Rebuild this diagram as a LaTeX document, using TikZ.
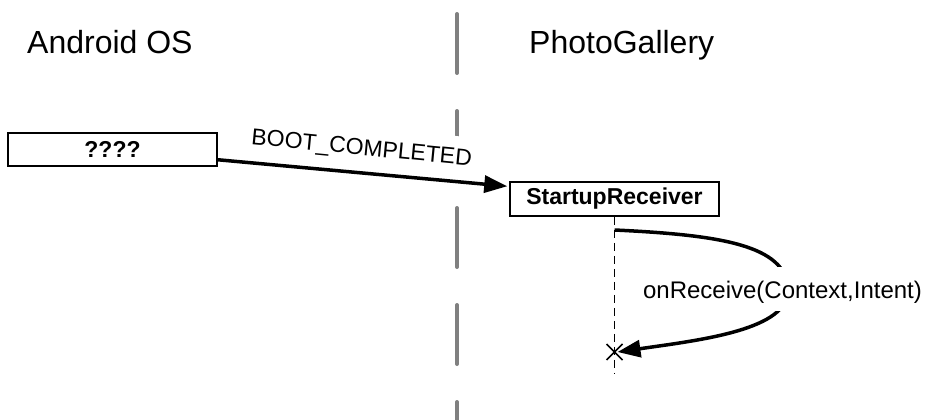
\documentclass[tikz,border=0pt]{standalone}
\usepackage{fontspec}
\setmainfont{Liberation Sans}
\usetikzlibrary{arrows.meta,calc}
\begin{document}
\begin{tikzpicture}[x=1pt,y=-1pt,
  title/.style={font=\fontsize{32}{36}\selectfont, anchor=base west, inner sep=0pt},
  objbox/.style={draw=black, line width=1.5pt, fill=white, minimum width=209pt, minimum height=33pt, inner sep=0pt, font=\fontsize{23}{25}\selectfont\bfseries},
  msg/.style={line width=3.5pt, -{Triangle[length=23pt,width=17pt]}},
  msglabel/.style={fill=white, inner xsep=2pt, inner ysep=0pt, anchor=base},
  divider/.style={draw=black!50, line width=4pt, line cap=round, dash pattern=on 59pt off 38pt},
  lifeline/.style={draw=black, line width=1.5pt, dash pattern=on 8pt off 5pt}
]
\useasboundingbox (0,0) rectangle (927,420);
% divider
\coordinate (dtop) at (457,14);
\coordinate (dbot) at (457,430);
\draw[divider] (dtop) -- (dbot);
% titles
\node[title] (android) at (27,54) {Android OS};
\node[title] (gallery) at (529,54) {PhotoGallery};
% objects
\node[objbox] (os) at (112.5,149.5) {????};
\node[objbox, minimum height=34pt] (recv) at (614.5,199) {StartupReceiver};
% lifeline
\coordinate (lend) at (614.5,374);
\draw[lifeline] (recv.south) -- (lend);
% destruction mark
\coordinate (xm) at (614.5,352);
\draw[line width=1.5pt] ($(xm)+(-8,-8)$) -- ($(xm)+(8,8)$) ($(xm)+(8,-8)$) -- ($(xm)+(-8,8)$);
% boot message
\coordinate (bootstart) at ($(os.south east)+(0,-7)$);
\coordinate (boottip) at ($(recv.north west)+(-2,5)$);
\draw[msg] (bootstart) -- (boottip);
\node[msglabel, font=\fontsize{23}{26}\selectfont, rotate=-5.5, text height=28pt, text depth=10pt] (bootlbl) at (361,155) {BOOT\_COMPLETED};
% self message
\coordinate (selfstart) at (614.5,230);
\draw[msg] (selfstart) .. controls (720,235) and (786,245) .. (788,289) .. controls (790,330) and (700,340) .. ($(xm)+(3,0)$);
\node[msglabel, font=\fontsize{24}{27}\selectfont, text height=31pt, text depth=13pt] (selflbl) at (782.5,298) {onReceive(Context,Intent)};
\end{tikzpicture}
\end{document}
